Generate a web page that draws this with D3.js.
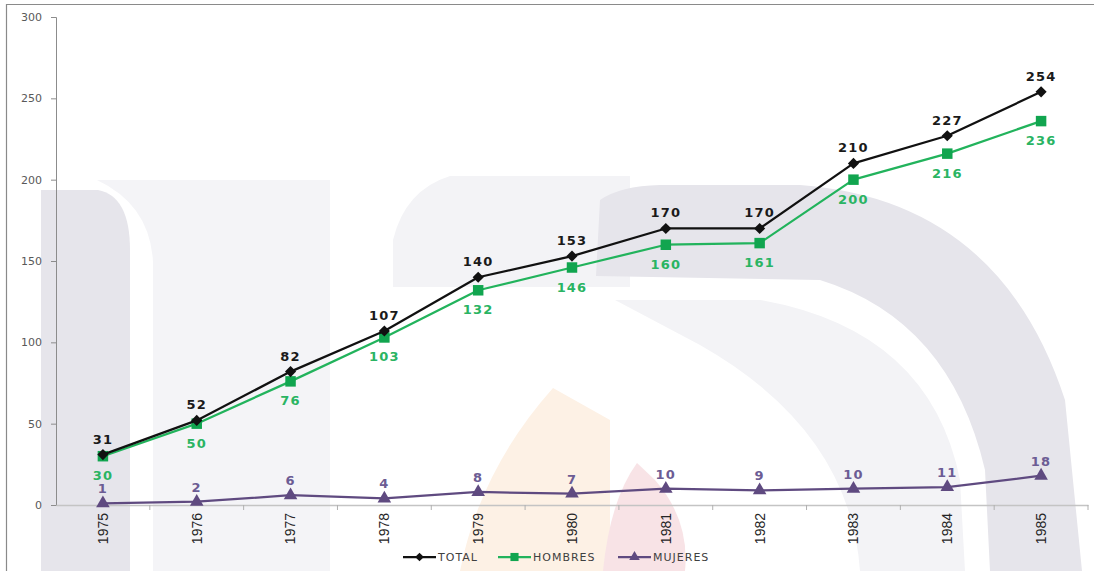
<!DOCTYPE html>
<html>
<head>
<meta charset="utf-8">
<script src="https://cdn.jsdelivr.net/npm/d3@7"></script>
<style>
    body { margin: 0; background: #fff; }
    #chart { width: 1094px; height: 571px; }
    .y-axis text { font-family: 'DejaVu Sans', Verdana, sans-serif; font-size: 11px; fill: #595959; }
    .x-axis text { font-family: 'Liberation Sans Narrow', 'Arial Narrow', sans-serif; font-size: 14px; fill: #262626; }
    .data-label { font-family: 'DejaVu Sans', Verdana, sans-serif; font-size: 13px; font-weight: bold; letter-spacing: 1.2px; text-anchor: middle; }
    .legend text { font-family: 'DejaVu Sans', Verdana, sans-serif; font-size: 11px; letter-spacing: 1px; fill: #404040; }
</style>
</head>
<body>
<div id="chart"></div>
<script>
// datos del grafico
const years = ['1975', '1976', '1977', '1978', '1979', '1980', '1981', '1982', '1983', '1984', '1985'];
const totalValues = [31, 52, 82, 107, 140, 153, 170, 170, 210, 227, 254];
const hombresValues = [30, 50, 76, 103, 132, 146, 160, 161, 200, 216, 236];
const mujeresValues = [1, 2, 6, 4, 8, 7, 10, 9, 10, 11, 18];
const yTicks = [0, 50, 100, 150, 200, 250, 300];
const seriesNames = ['TOTAL', 'HOMBRES', 'MUJERES'];

(function () {
    'use strict';

    const width = 1094;
    const height = 571;
    const margin = { top: 17, right: 6, bottom: 66, left: 56 };

    const svg = d3.select('#chart').append('svg').attr('width', width).attr('height', height);

    // marca de agua de fondo (logo desvanecido)
    const wm = svg.append('g').attr('class', 'watermark');
    wm.append('path').attr('fill', '#e6e5eb')
        .attr('d', 'M41,571 L41,190 L98,190 Q130,196 130,250 L130,571 Z');
    wm.append('path').attr('fill', '#f4f4f7')
        .attr('d', 'M97,180 L330,180 L330,571 L153,571 L153,262 Q150,205 97,180 Z');
    wm.append('path').attr('fill', '#f3f3f6')
        .attr('d', 'M450,176 L630,176 L630,287 L393,287 L393,240 Q405,190 450,176 Z');
    wm.append('path').attr('fill', '#e6e5eb')
        .attr('d', 'M600,200 Q620,186 660,185 L800,185 Q1000,200 1065,400 L1082,571 L990,571 L985,470 Q950,320 820,280 L596,276 Z');
    wm.append('path').attr('fill', '#f3f3f6')
        .attr('d', 'M615,300 L760,300 Q930,330 960,480 L965,571 L860,571 Q850,430 700,345 Z');
    wm.append('path').attr('fill', '#fdf1e5')
        .attr('d', 'M553,388 L610,420 L610,571 L460,571 Q480,470 553,388 Z');
    wm.append('path').attr('fill', '#f8e3e6')
        .attr('d', 'M637,463 L655,480 Q690,520 685,571 L603,571 Q610,500 637,463 Z');

    // marco exterior
    svg.append('path').attr('fill', 'none').attr('stroke', '#8a8a8a').attr('stroke-width', 1.2)
        .attr('d', 'M6.5,571 L6.5,4.5 L1094,4.5');

    // escalas
    const x = d3.scaleBand().domain(years).range([margin.left, 1088]);
    const y = d3.scaleLinear().domain([0, 300]).range([505, margin.top]);
    const cx = function (d, i) { return x(years[i]) + x.bandwidth() / 2; };

    // eje y
    const yAxis = svg.append('g').attr('class', 'y-axis').attr('transform', 'translate(' + margin.left + ',0)')
        .call(d3.axisLeft(y).tickValues(yTicks).tickSize(5).tickPadding(9));
    yAxis.select('.domain').attr('stroke', '#8c8c8c');
    yAxis.selectAll('.tick line').attr('stroke', '#8c8c8c');

    // eje x con etiquetas verticales
    const xAxis = svg.append('g').attr('class', 'x-axis').attr('transform', 'translate(0,505)')
        .call(d3.axisBottom(x).tickSize(0).tickPadding(0));
    xAxis.select('.domain').attr('stroke', '#c4c4c4').attr('stroke-width', 1.5);
    xAxis.selectAll('.tick text')
        .attr('transform', 'rotate(-90)')
        .attr('text-anchor', 'end')
        .attr('x', -8).attr('y', 0).attr('dy', '0.35em');

    // marcas entre categorias
    const bounds = years.map(function (d) { return x(d); }).concat([x.range()[1]]);
    svg.append('g').selectAll('line').data(bounds.slice(1)).enter().append('line')
        .attr('x1', function (d) { return d; }).attr('x2', function (d) { return d; })
        .attr('y1', 505).attr('y2', 510).attr('stroke', '#b0b0b0');

    const line = d3.line().x(cx).y(function (d) { return y(d); });

    // rombo regular = cuadrado girado 45 grados
    const series = [
        { name: seriesNames[0], values: totalValues, color: '#111111', markerColor: '#111111', labelColor: '#1a1a1a', shape: d3.symbolSquare, rot: 45, size: 62, dy: -11 },
        { name: seriesNames[1], values: hombresValues, color: '#22b35c', markerColor: '#11a54f', labelColor: '#2ab463', shape: d3.symbolSquare, rot: 0, size: 110, dy: 24 },
        { name: seriesNames[2], values: mujeresValues, color: '#5f4a80', markerColor: '#5f4a80', labelColor: '#6c5c94', shape: d3.symbolTriangle, rot: 0, size: 80, dy: -10 }
    ];

    // dibujar de atras hacia adelante
    series.slice().reverse().forEach(function (s) {
        const g = svg.append('g').attr('class', 'series');
        g.append('path').datum(s.values).attr('fill', 'none').attr('stroke', s.color)
            .attr('stroke-width', 2.25).attr('stroke-linejoin', 'round').attr('d', line);

        g.selectAll('.marker').data(s.values).enter().append('path').attr('class', 'marker')
            .attr('transform', function (d, i) {
                return 'translate(' + cx(d, i) + ',' + y(d) + ') rotate(' + s.rot + ')';
            })
            .attr('d', d3.symbol().type(s.shape).size(s.size))
            .attr('fill', s.markerColor);

        g.selectAll('.data-label').data(s.values).enter().append('text').attr('class', 'data-label')
            .attr('x', cx).attr('y', function (d) { return y(d) + s.dy; })
            .attr('fill', s.labelColor)
            .text(function (d) { return d; });
    });

    // leyenda
    const legendX = [403, 498, 618];
    const legend = svg.append('g').attr('class', 'legend');
    series.forEach(function (s, i) {
        const lg = legend.append('g').attr('transform', 'translate(' + legendX[i] + ',557)');
        lg.append('line').attr('x1', 0).attr('x2', 33).attr('stroke', s.color).attr('stroke-width', 2.25);
        lg.append('path').attr('transform', 'translate(16.5,0) rotate(' + s.rot + ')')
            .attr('d', d3.symbol().type(s.shape).size(s.size * 0.6)).attr('fill', s.markerColor);
        lg.append('text').attr('x', 35).attr('dy', '0.36em').text(s.name);
    });
}());
</script>
</body>
</html>
